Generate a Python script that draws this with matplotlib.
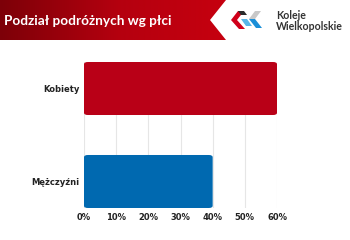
import numpy as np
import matplotlib
matplotlib.use("Agg")
import matplotlib.pyplot as plt
from matplotlib.patches import Polygon, FancyBboxPatch
from matplotlib.colors import LinearSegmentedColormap
from matplotlib.ticker import PercentFormatter

plt.rcParams["font.family"] = ["Lato", "DejaVu Sans"]

categories = ["Mężczyźni", "Kobiety"]
values = [40, 60]
colors = ["#0069b0", "#b90017"]
xticks = [0, 10, 20, 30, 40, 50, 60]
title = "Podział podróżnych wg płci"

W, H = 350, 240
fig = plt.figure(figsize=(3.5, 2.4), dpi=100)
fig.patch.set_facecolor("white")

# background / header layer in pixel coordinates
bg = fig.add_axes([0, 0, 1, 1])
bg.set_xlim(0, W)
bg.set_ylim(H, 0)
bg.axis("off")
cmap = LinearSegmentedColormap.from_list("hdr", ["#7d0008", "#b5000f", "#c8000f"])
grad = np.linspace(0, 1, 256).reshape(1, -1)
bg.imshow(grad, cmap=cmap, extent=[0, 240, 40, 0], aspect="auto", zorder=1)
# white chevron area
bg.add_patch(Polygon([[226, 0], [210, 20], [226, 40], [W, 40], [W, 0]],
                     closed=True, facecolor="white", edgecolor="none", zorder=2))
# logo shapes
bg.add_patch(Polygon([[238, 11], [231, 20], [239, 29], [245, 29], [237, 20], [244, 11]],
                     facecolor="#d0001a", edgecolor="none", zorder=3))
bg.add_patch(Polygon([[238, 11], [244, 11], [247, 15], [241, 15]],
                     facecolor="#2b2b2b", edgecolor="none", zorder=4))
bg.add_patch(Polygon([[241, 19], [247, 19], [252, 26], [246, 26]],
                     facecolor="#58b6e8", edgecolor="none", zorder=3))
bg.add_patch(Polygon([[249, 19], [255, 19], [262, 28], [256, 28]],
                     facecolor="#1a8fd8", edgecolor="none", zorder=3))
bg.add_patch(Polygon([[255, 11], [261, 11], [255, 19], [249, 19]],
                     facecolor="#c8c8c8", edgecolor="none", zorder=3))
bg.text(276, 15.5, "Koleje", fontsize=7.6, fontweight="bold", color="#333333",
        va="center", ha="left", zorder=5)
bg.text(276, 27, "Wielkopolskie", fontsize=7.6, fontweight="bold", color="#333333",
        va="center", ha="left", zorder=5)
bg.text(4, 21, title, fontsize=9.8, fontweight="bold", color="white",
        va="center", ha="left", zorder=5)

# chart axes
x0, x1 = 84, 277
y0, y1 = 62, 208
ax = fig.add_axes([x0 / W, 1 - y1 / H, (x1 - x0) / W, (y1 - y0) / H])
ax.set_facecolor("none")
bh = 0.57
ax.set_xlim(0, 60)
ax.set_ylim(-bh / 2, 1 + bh / 2)
for i, (v, c) in enumerate(zip(values, colors)):
    ax.add_patch(FancyBboxPatch((0, i - bh / 2), v, bh,
                                boxstyle="round,pad=0,rounding_size=1.2",
                                mutation_aspect=0.02,
                                facecolor=c, edgecolor="none", zorder=3))
tickfont = {"family": ["DejaVu Sans"], "size": 6, "weight": "bold"}
ax.set_yticks(range(len(categories)))
ax.set_yticklabels(categories, fontdict=tickfont, color="#222222")
ax.set_xticks(xticks)
ax.set_xticklabels([f"{t}%" for t in xticks], fontdict=tickfont, color="#222222")
ax.tick_params(length=0, pad=3.5)
ax.grid(axis="x", color="#e6e6e6", linewidth=0.8, zorder=0)
for s in ax.spines.values():
    s.set_visible(False)

fig.savefig("out.png", dpi=100, facecolor="white")
